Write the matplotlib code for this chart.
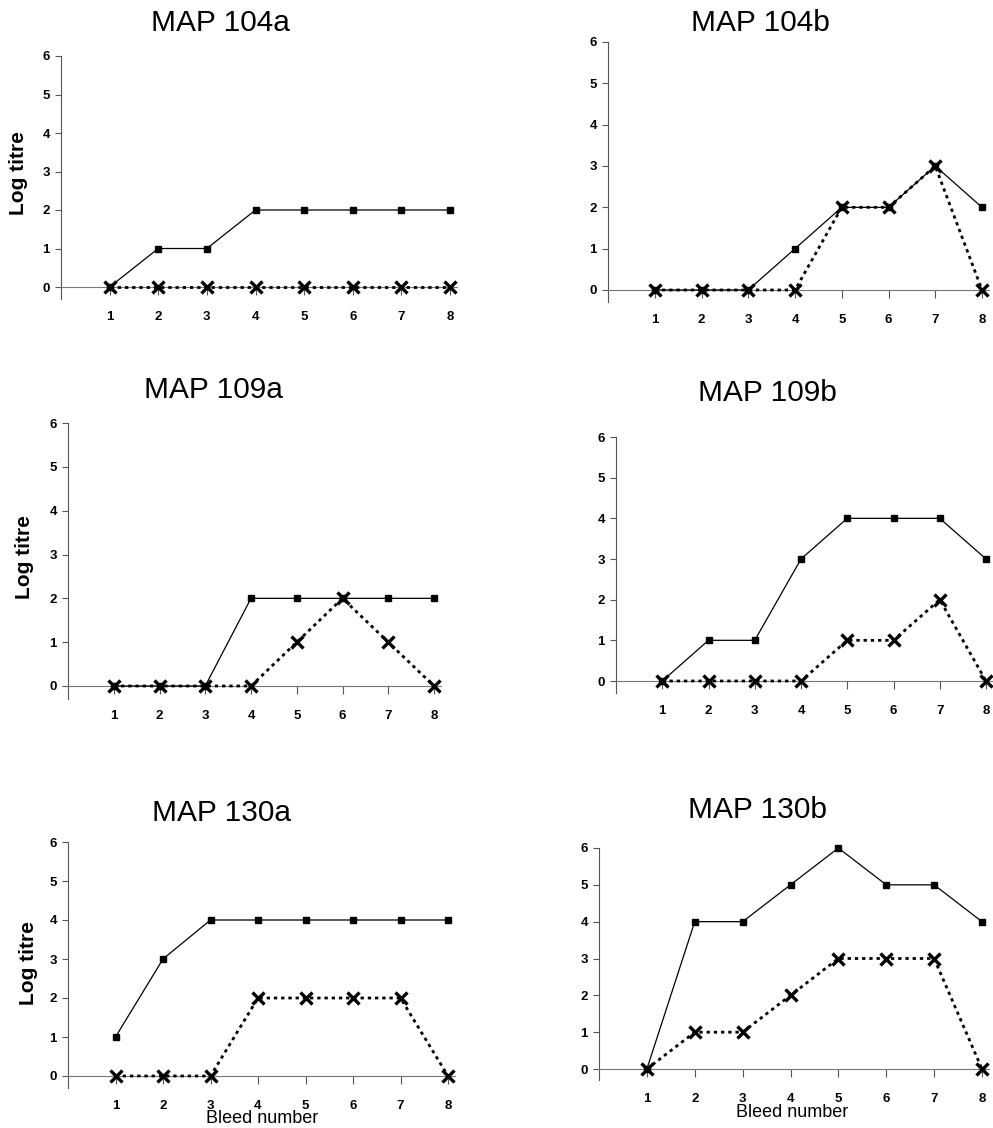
import numpy as np
import matplotlib
matplotlib.use("Agg")
import matplotlib.pyplot as plt

plt.rcParams['font.family'] = ['Liberation Sans', 'DejaVu Sans']

bleeds = [1, 2, 3, 4, 5, 6, 7, 8]
titles = ['MAP 104a', 'MAP 104b', 'MAP 109a', 'MAP 109b', 'MAP 130a', 'MAP 130b']

# solid line, square markers
sq_104a = [0, 1, 1, 2, 2, 2, 2, 2]
sq_104b = [0, 0, 0, 1, 2, 2, 3, 2]
sq_109a = [0, 0, 0, 2, 2, 2, 2, 2]
sq_109b = [0, 1, 1, 3, 4, 4, 4, 3]
sq_130a = [1, 3, 4, 4, 4, 4, 4, 4]
sq_130b = [0, 4, 4, 5, 6, 5, 5, 4]

# dotted line, cross markers
x_104a = [0, 0, 0, 0, 0, 0, 0, 0]
x_104b = [0, 0, 0, 0, 2, 2, 3, 0]
x_109a = [0, 0, 0, 0, 1, 2, 1, 0]
x_109b = [0, 0, 0, 0, 1, 1, 2, 0]
x_130a = [0, 0, 0, 2, 2, 2, 2, 0]
x_130b = [0, 1, 1, 2, 3, 3, 3, 0]

squares = [sq_104a, sq_104b, sq_109a, sq_109b, sq_130a, sq_130b]
crosses = [x_104a, x_104b, x_109a, x_109b, x_130a, x_130b]

W, H = 993, 1128
fig = plt.figure(figsize=(W / 100, H / 100), dpi=100)

# pixel anchors per panel: spine x, x=8 px, y=6 px, y=0 px, title x, title y
anchors = [
    (61, 450, 56, 287, 220, 23),
    (608, 982, 42, 290, 760, 23),
    (68, 434, 423, 686, 213, 390),
    (616, 986, 437, 681, 767, 393),
    (68, 448, 842, 1076, 222, 813),
    (599, 982, 848, 1069, 758, 810),
]
ylabel_pos = {0: (18, 173), 2: (25, 557), 4: (28, 963)}
# top edge of the x label text
xlabel_pos = {4: (262, 1110), 5: (792, 1104)}

xmax = 8.15
ymin = -0.3
for i in range(6):
    sx, x8, y6, y0, tx, ty = anchors[i]
    unit_x = (x8 - sx) / 8.0
    unit_y = (y0 - y6) / 6.0
    left = sx / W
    width = unit_x * xmax / W
    bottom = (H - (y0 - ymin * unit_y)) / H
    height = unit_y * (6 - ymin) / H
    ax = fig.add_axes([left, bottom, width, height])

    ax.plot(bleeds, squares[i], color='black', lw=0.9, marker='s', ms=5,
            clip_on=False, zorder=3)
    ax.plot(bleeds, crosses[i], color='black', lw=2.0, ls=(0, (1.2, 1.4)),
            marker='x', ms=9, mew=2.4, clip_on=False, zorder=4)

    ax.set_xlim(0, xmax)
    ax.set_ylim(ymin, 6)
    ax.spines['top'].set_visible(False)
    ax.spines['right'].set_visible(False)
    ax.spines['bottom'].set_position(('data', 0))
    ax.spines['bottom'].set_color('#777777')
    ax.spines['left'].set_color('#555555')
    ax.set_xticks(bleeds)
    ax.set_yticks(range(7))
    ax.tick_params(axis='x', direction='out', length=6, width=0.8,
                   color='#555555', pad=11, labelsize=9.5)
    ax.tick_params(axis='y', direction='out', length=4, width=0.8,
                   color='#555555', pad=4, labelsize=9.5)
    for lab in ax.get_xticklabels() + ax.get_yticklabels():
        lab.set_fontweight('bold')

    fig.text(tx / W, 1 - ty / H, titles[i], fontsize=21.5,
             ha='center', va='center')
    if i in ylabel_pos:
        px, py = ylabel_pos[i]
        fig.text(px / W, 1 - py / H, 'Log titre', fontsize=15,
                 fontweight='bold', rotation=90, ha='center', va='center')
    if i in xlabel_pos:
        px, py = xlabel_pos[i]
        fig.text(px / W, 1 - py / H, 'Bleed number', fontsize=13,
                 ha='center', va='top')

plt.savefig('out.png', dpi=100)
plt.close()
